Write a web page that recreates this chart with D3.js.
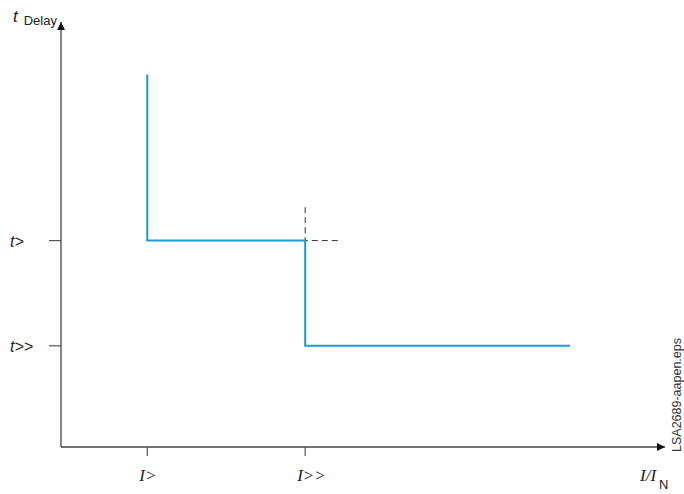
<!DOCTYPE html>
<html>
<head>
<meta charset="utf-8">
<script src="https://cdn.jsdelivr.net/npm/d3@7"></script>
<style>
  body { margin: 0; background: #fff; }
  svg { display: block; }
  .sans { font-family: "Liberation Sans", Arial, sans-serif; }
  .serif { font-family: "Liberation Serif", "Times New Roman", serif; font-style: italic; }
</style>
</head>
<body>
<svg width="684" height="494"></svg>
<script>
// current levels (multiples on the I/IN axis)
var xTicks = [1, 2.83];
var xTickLabels = ['I>', 'I>>'];
// delay levels
var yTicks = [1, 2.04];
var yTickLabels = ['t>>', 't>'];
// tripping characteristic (I, t)
var curveI = [1, 1, 2.83, 2.83, 5.9];
var curveT = [3.68, 2.04, 2.04, 1, 1];
// dashed construction lines
var dashI = [2.83, 2.83, 3.25];
var dashT = [2.37, 2.04, 2.04];

var svg = d3.select('svg');

var x = d3.scaleLinear().domain([0, 7]).range([61, 665]);
var y = d3.scaleLinear().domain([0, 4.2]).range([447, 22]);

// arrowhead
svg.append('defs').append('marker')
    .attr('id', 'arrow')
    .attr('viewBox', '0 0 10 10')
    .attr('refX', 10).attr('refY', 5)
    .attr('markerWidth', 14).attr('markerHeight', 8)
    .attr('markerUnits', 'userSpaceOnUse')
    .attr('orient', 'auto')
  .append('path')
    .attr('d', 'M0,0L10,5L0,10z')
    .attr('fill', '#111');

// axes
svg.append('line')
    .attr('x1', x(0)).attr('y1', y(0))
    .attr('x2', x(7)).attr('y2', y(0))
    .attr('stroke', '#444').attr('stroke-width', 1.3)
    .attr('marker-end', 'url(#arrow)');
svg.append('line')
    .attr('x1', x(0)).attr('y1', y(0))
    .attr('x2', x(0)).attr('y2', y(4.2))
    .attr('stroke', '#444').attr('stroke-width', 1.3)
    .attr('marker-end', 'url(#arrow)');

// x ticks
svg.selectAll('.xt').data(xTicks).enter().append('line')
    .attr('x1', function (d) { return x(d); })
    .attr('x2', function (d) { return x(d); })
    .attr('y1', y(0)).attr('y2', y(0) + 9)
    .attr('stroke', '#555').attr('stroke-width', 1.2);
svg.selectAll('.xl').data(xTicks).enter().append('text')
    .attr('class', 'serif')
    .attr('x', function (d) { return x(d) - 8; })
    .attr('y', 481)
    .attr('font-size', 17)
    .attr('fill', '#222')
    .text(function (d, i) { return xTickLabels[i]; });

// y ticks
svg.selectAll('.yt').data(yTicks).enter().append('line')
    .attr('x1', x(0) - 12).attr('x2', x(0))
    .attr('y1', function (d) { return y(d); })
    .attr('y2', function (d) { return y(d); })
    .attr('stroke', '#555').attr('stroke-width', 1.2);
svg.selectAll('.yl').data(yTicks).enter().append('text')
    .attr('class', 'sans')
    .attr('x', 10)
    .attr('y', function (d) { return y(d) + 6; })
    .attr('font-size', 16)
    .attr('font-style', 'italic')
    .attr('fill', '#222')
    .text(function (d, i) { return yTickLabels[i]; });

// axis titles
var yt = svg.append('text').attr('class', 'sans').attr('x', 13).attr('y', 22).attr('fill', '#222');
yt.append('tspan').attr('font-size', 17).attr('font-style', 'italic').text('t');
yt.append('tspan').attr('font-size', 13).attr('dx', 6).attr('dy', 3).text('Delay');

var xt = svg.append('text').attr('x', 640).attr('y', 481).attr('fill', '#222');
xt.append('tspan').attr('class', 'serif').attr('font-size', 17).text('I/I');
xt.append('tspan').attr('class', 'sans').attr('font-size', 13).attr('dx', 3).attr('dy', 8).text('N');

// characteristic
var line = d3.line()
    .x(function (d) { return x(d[0]); })
    .y(function (d) { return y(d[1]); });

svg.append('path')
    .datum(d3.zip(dashI, dashT))
    .attr('d', line)
    .attr('fill', 'none')
    .attr('stroke', '#333').attr('stroke-width', 1)
    .attr('stroke-dasharray', '6,4');

svg.append('path')
    .datum(d3.zip(curveI, curveT))
    .attr('d', line)
    .attr('fill', 'none')
    .attr('stroke', '#1a9ad6').attr('stroke-width', 2);

// file tag
svg.append('text')
    .attr('class', 'sans')
    .attr('transform', 'translate(681,452) rotate(-90)')
    .attr('font-size', 12.5)
    .attr('fill', '#333')
    .text('LSA2689-aapen.eps');
</script>
</body>
</html>
